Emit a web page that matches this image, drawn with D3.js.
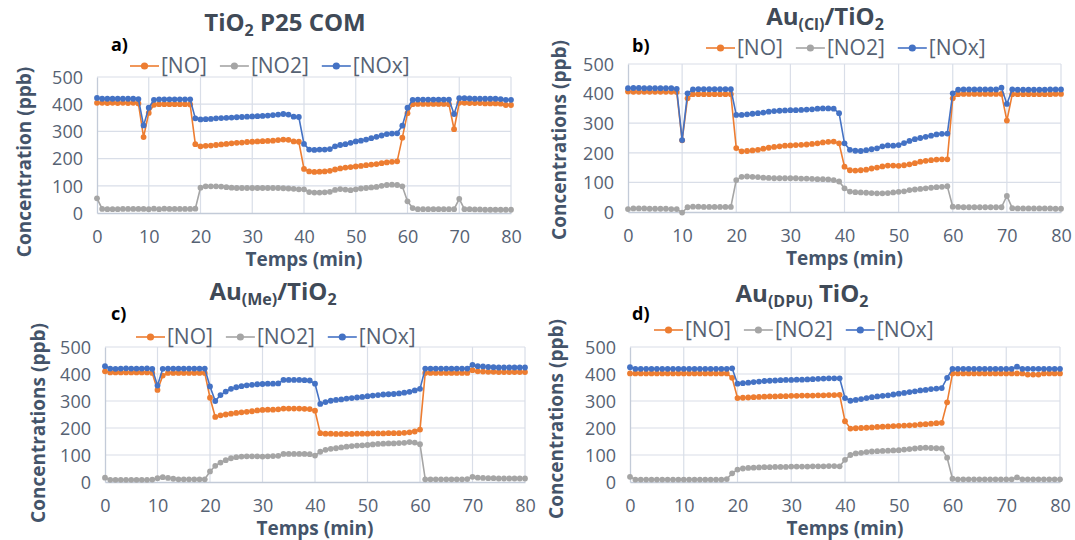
<!DOCTYPE html>
<html><head><meta charset="utf-8">
<script src="https://cdn.jsdelivr.net/npm/d3@7"></script>
<style>
body{margin:0;background:#fff;}
svg{display:block;font-family:"Open Sans",sans-serif;}
</style></head>
<body><svg id="c" width="1075" height="540"></svg>
<script>
const times = d3.range(0, 81, 1);
const xTicks = [0,10,20,30,40,50,60,70,80];
const yTicks = [0,100,200,300,400,500];
const seriesNames = ["[NO]", "[NO2]", "[NOx]"];

// Panel a: TiO2 P25 COM
const noA = [405,405,404,405,404,405,404,405,403,279,368,398,400,400,400,400,400,400,399,253,245,
247,248,250,252,254,256,258,259,261,262,263,264,265,266,268,270,269,263,262,162,
153,151,152,153,155,160,164,167,169,171,173,176,178,180,183,186,188,190,277,367,
400,401,401,401,401,401,401,400,308,405,405,404,404,404,403,403,403,402,397,397];
const noxA = [423,420,420,420,420,420,420,420,419,322,387,416,418,418,418,418,418,418,418,348,344,
345,346,348,349,350,351,352,353,354,355,356,357,358,360,362,364,362,354,353,254,
233,232,233,233,235,245,250,253,258,263,266,270,275,280,285,290,292,293,321,387,
416,417,417,417,417,417,417,417,364,422,422,421,420,420,420,420,420,419,416,416];
const no2A = [54,15,14,14,14,15,15,15,15,15,14,16,14,16,15,15,15,15,15,16,93,
98,98,98,97,95,93,92,92,92,92,92,92,92,92,92,91,90,89,87,87,
77,75,75,76,78,85,88,86,84,87,90,92,94,96,100,103,104,103,98,43,
18,14,14,14,14,14,14,14,14,52,14,14,13,13,12,12,12,12,12,12];

// Panel b: Au(Cl)/TiO2
const noB = [407,406,406,406,406,406,406,406,406,405,242,384,398,398,398,398,398,398,398,398,216,
205,206,208,210,214,217,220,222,224,225,226,227,228,230,232,235,237,238,232,153,
141,140,141,143,147,150,154,157,157,156,158,161,165,170,173,175,177,178,178,384,
398,399,399,399,399,399,399,399,399,309,398,398,398,398,398,398,398,398,399,399];
const noxB = [418,419,419,418,418,418,418,418,418,416,243,401,414,415,415,415,415,415,415,415,328,
328,330,332,334,336,339,341,342,343,344,344,345,346,347,349,350,350,349,334,232,
210,207,206,209,212,215,222,225,224,226,233,240,246,250,254,258,262,264,265,401,
413,414,414,414,414,414,414,414,420,365,414,413,413,413,413,413,413,414,414,414];
const no2B = [10,12,12,12,11,11,11,11,10,10,-2,16,18,18,17,17,17,17,17,17,108,
119,120,119,118,116,115,114,114,114,114,114,113,113,112,111,111,110,108,103,80,
69,67,66,65,64,63,63,64,66,68,70,74,76,78,80,82,84,85,87,18,
17,16,16,16,16,16,16,16,16,54,13,12,12,12,12,12,12,12,11,11];

// Panel c: Au(Me)/TiO2
const noC = [410,406,406,406,406,406,406,406,406,404,341,394,404,404,404,404,404,404,404,404,312,
241,247,250,253,256,258,260,262,265,267,268,268,269,272,272,272,272,271,270,264,
181,179,179,178,178,178,178,179,179,179,180,180,180,181,181,181,182,184,187,194,
404,404,404,404,404,404,404,404,404,414,410,409,408,408,407,407,407,407,407,407];
const noxC = [429,420,419,420,421,420,420,420,421,419,357,419,420,420,420,420,420,420,420,420,354,
300,322,335,345,351,355,358,360,362,363,364,364,365,378,378,378,378,377,376,364,
289,296,301,304,306,309,311,313,315,318,320,322,324,325,326,328,331,334,339,345,
420,420,420,420,420,420,420,420,420,434,429,428,426,425,424,424,424,424,424,424];
const no2C = [16,8,8,8,8,8,8,8,8,9,14,18,15,12,10,10,10,10,10,10,39,
60,72,81,88,92,94,95,95,95,94,95,96,97,104,104,104,104,104,103,98,
112,119,123,125,128,131,133,135,136,137,139,141,142,143,143,144,145,148,146,140,
10,10,10,10,10,10,10,10,11,19,16,15,14,14,13,13,13,13,13,13];

// Panel d: Au(DPU) TiO2
const noD = [402,402,402,402,402,402,402,402,402,402,402,402,402,402,402,402,402,402,402,386,311,
312,313,314,315,316,317,317,318,318,319,319,320,320,320,321,321,322,322,323,225,
198,199,200,201,202,204,205,206,207,208,209,210,211,213,214,216,218,219,295,402,
402,402,402,402,402,402,402,402,402,402,402,402,402,398,398,398,402,402,402,402];
const noxD = [425,419,419,419,419,419,419,419,419,419,419,419,419,419,419,419,419,419,419,421,364,
366,368,370,372,374,375,376,377,378,378,379,379,380,381,382,383,384,384,384,311,
301,304,307,311,314,317,319,321,324,327,330,333,336,339,341,344,346,348,386,419,
419,419,419,419,419,419,419,419,419,419,419,427,419,419,419,419,419,419,419,419];
const no2D = [19,9,9,9,9,9,9,9,9,9,9,9,9,9,9,9,9,9,11,32,46,
50,52,53,54,55,55,56,56,56,57,57,57,57,58,58,58,59,59,58,82,
100,106,108,111,113,114,115,116,117,118,120,122,124,126,127,126,125,124,90,12,
10,10,10,10,10,10,10,10,10,10,10,17,10,10,10,10,10,10,10,10];

const colors = ["#ED7D31", "#A5A5A5", "#4472C4"];
const svg = d3.select("#c");

const panels = [
  {x0:97, x1:511, y0:213, y1:77, data:[noA,no2A,noxA], label:"a)", lx:111, ly:51,
   title:[["TiO",0],["2",1],[" P25 COM",0]], tx:285, ty:31,
   ytitle:"Concentration (ppb)", ytx:24, ytc:162, legX:130, legY:66, xtY:266},
  {x0:628, x1:1061, y0:212, y1:64, data:[noB,no2B,noxB], label:"b)", lx:632, ly:52,
   title:[["Au",0],["(Cl)",1],["/TiO",0],["2",1]], tx:825, ty:25,
   ytitle:"Concentrations (ppb)", ytx:559, ytc:140, legX:706, legY:48, xtY:265},
  {x0:105, x1:525, y0:482, y1:347, data:[noC,no2C,noxC], label:"c)", lx:111, ly:320,
   title:[["Au",0],["(Me)",1],["/TiO",0],["2",1]], tx:273, ty:300,
   ytitle:"Concentrations (ppb)", ytx:38, ytc:423, legX:136, legY:337, xtY:535},
  {x0:630, x1:1060, y0:482, y1:347, data:[noD,no2D,noxD], label:"d)", lx:632, ly:320,
   title:[["Au",0],["(DPU)",1],[" TiO",0],["2",1]], tx:802, ty:302,
   ytitle:"Concentrations (ppb)", ytx:556, ytc:419, legX:654, legY:330, xtY:535}
];

panels.forEach(p => {
  const x = d3.scaleLinear().domain([0,80]).range([p.x0,p.x1]);
  const y = d3.scaleLinear().domain([0,500]).range([p.y0,p.y1]);
  const g = svg.append("g");

  g.append("g").selectAll("line").data(yTicks.filter(v=>v>0)).join("line")
    .attr("x1",p.x0).attr("x2",p.x1).attr("y1",d=>y(d)).attr("y2",d=>y(d))
    .attr("stroke","#d9dee8").attr("stroke-width",1.2);
  g.append("g").selectAll("line").data(xTicks.filter(v=>v>0)).join("line")
    .attr("x1",d=>x(d)).attr("x2",d=>x(d)).attr("y1",p.y0).attr("y2",p.y1)
    .attr("stroke","#d9dee8").attr("stroke-width",1.2);

  const ax = g.append("g").attr("transform",`translate(0,${p.y0})`)
    .call(d3.axisBottom(x).tickValues(xTicks).tickSize(0).tickPadding(17));
  const ay = g.append("g").attr("transform",`translate(${p.x0},0)`)
    .call(d3.axisLeft(y).tickValues(yTicks).tickSize(0).tickPadding(14));
  [ax,ay].forEach(a=>{
    a.select(".domain").attr("stroke","#c3cbd8").attr("stroke-width",1.3);
    a.selectAll("text").attr("fill","#566273").style("font-size","18px")
      .style("font-family","'Open Sans',sans-serif");
  });
  ay.selectAll("text").attr("dy","0.35em");

  const line = d3.line().x((d,i)=>x(times[i])).y(d=>y(d));
  p.data.forEach((arr,k)=>{
    const sg = g.append("g");
    sg.append("path").datum(arr).attr("d",line).attr("fill","none")
      .attr("stroke",colors[k]).attr("stroke-width",1.6);
    sg.selectAll("circle").data(arr).join("circle")
      .attr("cx",(d,i)=>x(times[i])).attr("cy",d=>y(d)).attr("r",2.9)
      .attr("fill",colors[k]);
  });

  const t = svg.append("text").attr("x",p.tx).attr("y",p.ty).attr("text-anchor","middle")
    .attr("fill","#404a57").style("font-size","24px").style("font-weight","bold");
  let prevSub = false;
  p.title.forEach(([s,sub])=>{
    let dy = 0;
    if(sub && !prevSub) dy = 5; else if(!sub && prevSub) dy = -5;
    t.append("tspan").text(s).attr("dy",dy).style("font-size", sub ? "16px" : "24px");
    prevSub = !!sub;
  });

  svg.append("text").attr("x",p.lx).attr("y",p.ly).text(p.label)
    .attr("fill","#000").style("font-size","18px").style("font-weight","bold");

  svg.append("text").attr("x",(p.x0+p.x1)/2).attr("y",p.xtY).attr("text-anchor","middle")
    .text("Temps (min)").attr("fill","#44546A").style("font-size","19px").style("font-weight","bold");
  svg.append("text").attr("transform",`translate(${p.ytx},${p.ytc}) rotate(-90)`)
    .attr("text-anchor","middle").attr("dy","0.35em")
    .text(p.ytitle).attr("fill","#44546A").style("font-size","19px").style("font-weight","bold");

  let lx = p.legX;
  seriesNames.forEach((name,k)=>{
    const lg = svg.append("g");
    lg.append("line").attr("x1",lx).attr("x2",lx+29).attr("y1",p.legY).attr("y2",p.legY)
      .attr("stroke",colors[k]).attr("stroke-width",1.6);
    lg.append("circle").attr("cx",lx+14.5).attr("cy",p.legY).attr("r",3.6).attr("fill",colors[k]);
    const tx = lg.append("text").attr("x",lx+31).attr("y",p.legY).attr("dy","0.35em")
      .text(name).attr("fill","#566273").style("font-size","21px");
    lx += 31 + tx.node().getComputedTextLength() + 13;
  });
});
</script></body></html>
